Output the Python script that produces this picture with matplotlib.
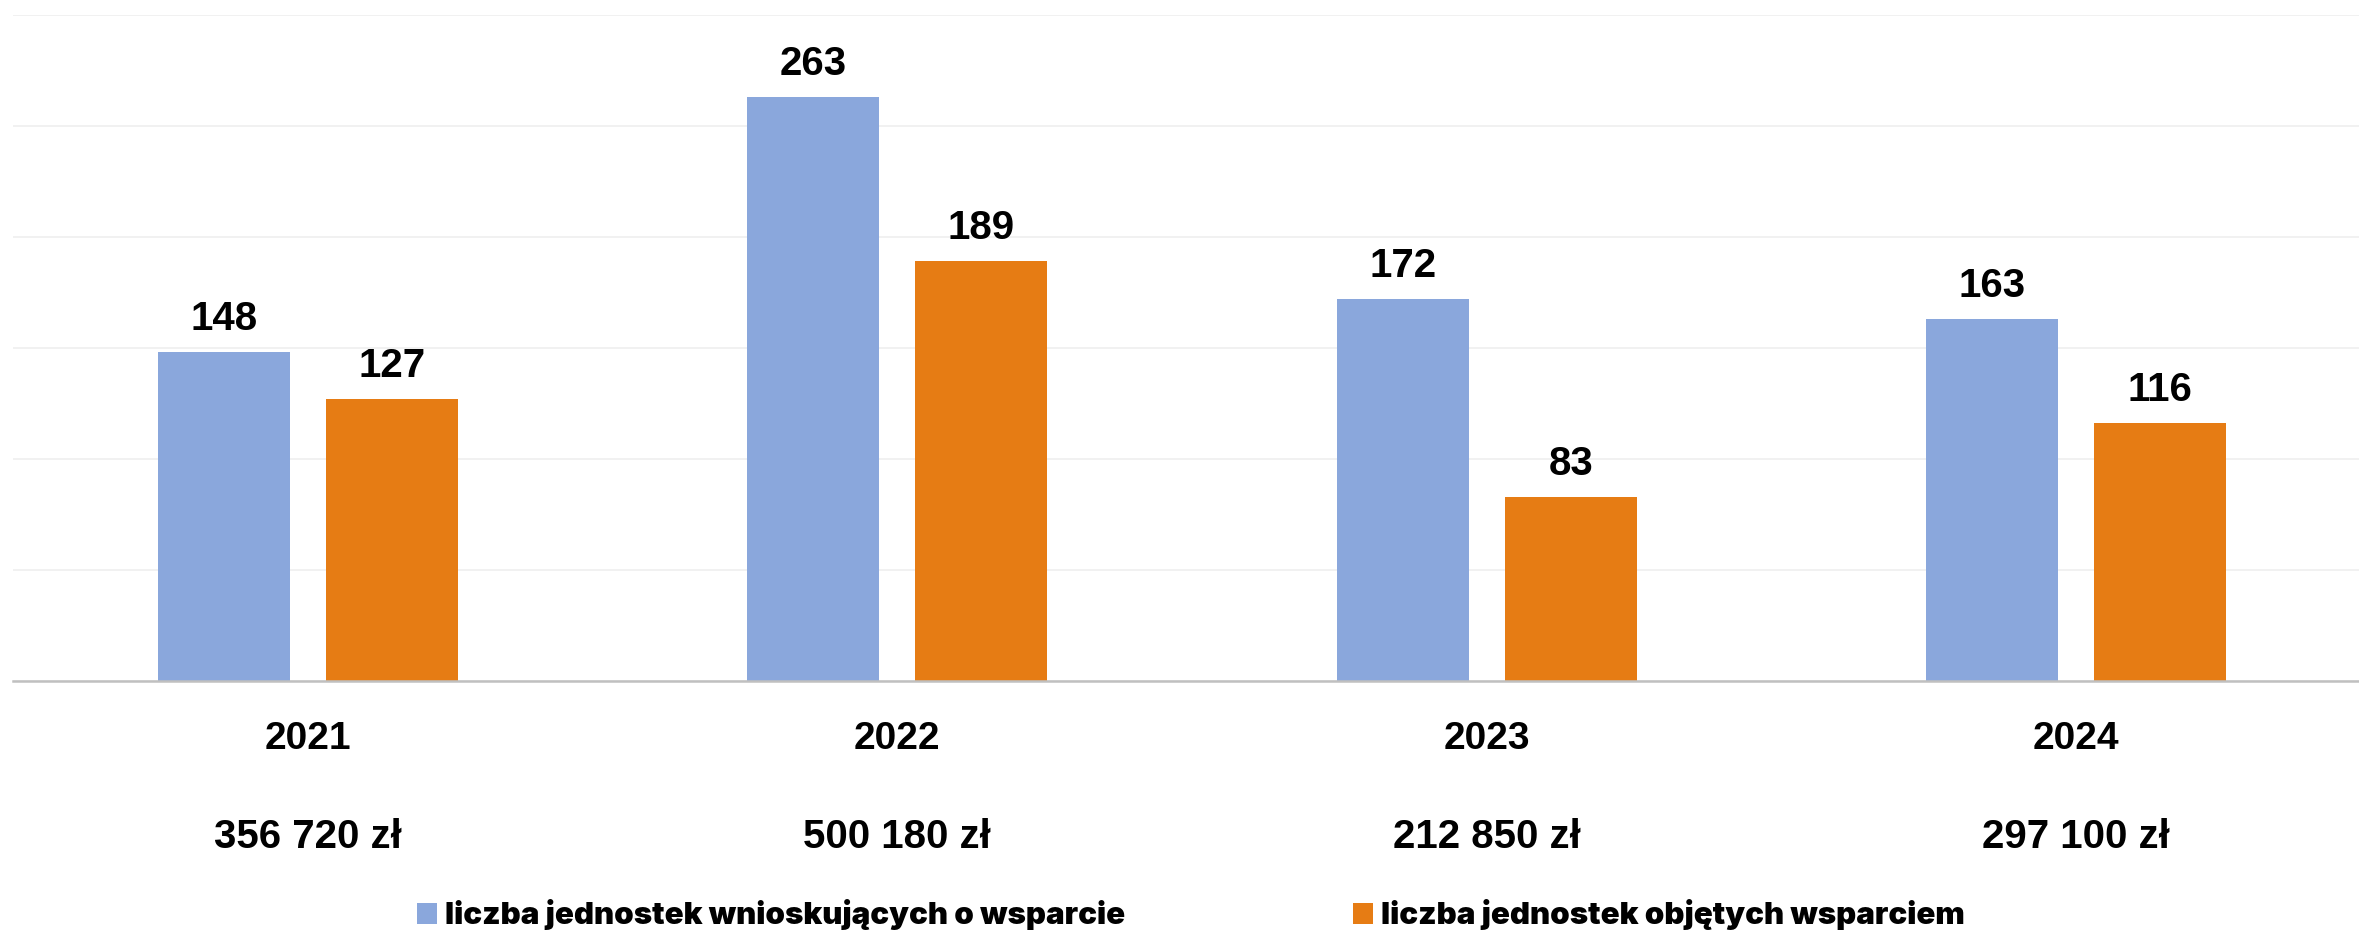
import matplotlib
matplotlib.use("Agg")
import matplotlib.pyplot as plt
from matplotlib.patches import Patch
from matplotlib.transforms import blended_transform_factory
import numpy as np

years = ["2021", "2022", "2023", "2024"]
amounts = ["356 720 zł", "500 180 zł", "212 850 zł", "297 100 zł"]
applying = [148, 263, 172, 163]
supported = [127, 189, 83, 116]
series_names = ["liczba jednostek wnioskujących o wsparcie",
                "liczba jednostek objętych wsparciem"]

BLUE = "#8AA7DC"
ORANGE = "#E67C14"

W, H = 2359, 933
fig = plt.figure(figsize=(W / 100, H / 100), dpi=100)

ax_left = 12.9 / W
ax_right = 2371 / W
ax_bottom = (H - 681) / H
ax_top = (H - 15) / H
ax = fig.add_axes([ax_left, ax_bottom, ax_right - ax_left, ax_top - ax_bottom])

x = np.arange(len(years))
bw = 132 / 589.6
off = 84 / 589.6
b1 = ax.bar(x - off, applying, width=bw, color=BLUE, zorder=3)
b2 = ax.bar(x + off, supported, width=bw, color=ORANGE, zorder=3)

ax.set_xlim(-0.5, len(years) - 0.5)
ax.set_ylim(0, 300)
ax.set_yticks(np.arange(0, 301, 50))
ax.yaxis.grid(True, color="#EDEDED", linewidth=1.1, zorder=0)
ax.tick_params(left=False, labelleft=False, bottom=False, labelbottom=False)
for s in ["left", "right", "top"]:
    ax.spines[s].set_visible(False)
ax.spines["bottom"].set_color("#C0C0C0")
ax.spines["bottom"].set_linewidth(1.8)
ax.spines["bottom"].set_zorder(4)

lab_font = dict(family=["Liberation Sans", "DejaVu Sans"], weight="bold", color="black")
for bars, vals in ((b1, applying), (b2, supported)):
    for r, v in zip(bars, vals):
        ax.annotate(str(v), (r.get_x() + r.get_width() / 2, v),
                    xytext=(0, 16), textcoords="offset points",
                    ha="center", va="baseline", fontsize=29, **lab_font)

tr = blended_transform_factory(ax.transData, ax.transAxes)
for xi, yr, am in zip(x, years, amounts):
    ax.text(xi, -(749 - 681) / 666, yr, transform=tr, ha="center", va="baseline",
            fontsize=28, **lab_font)
    ax.text(xi, -(848 - 681) / 666, am, transform=tr, ha="center", va="baseline",
            fontsize=29, **lab_font)

handles = [Patch(facecolor=BLUE, edgecolor="none"), Patch(facecolor=ORANGE, edgecolor="none")]
leg = fig.legend(handles, series_names, loc="center", bbox_to_anchor=(1191 / W, (H - 915) / H),
                 ncol=2, frameon=False, handlelength=0.64, handleheight=0.64,
                 handletextpad=0.25, columnspacing=7.3,
                 prop=dict(family=["Inter", "DejaVu Sans"], weight="black", size=22.5))

fig.savefig("out.png", dpi=100)
